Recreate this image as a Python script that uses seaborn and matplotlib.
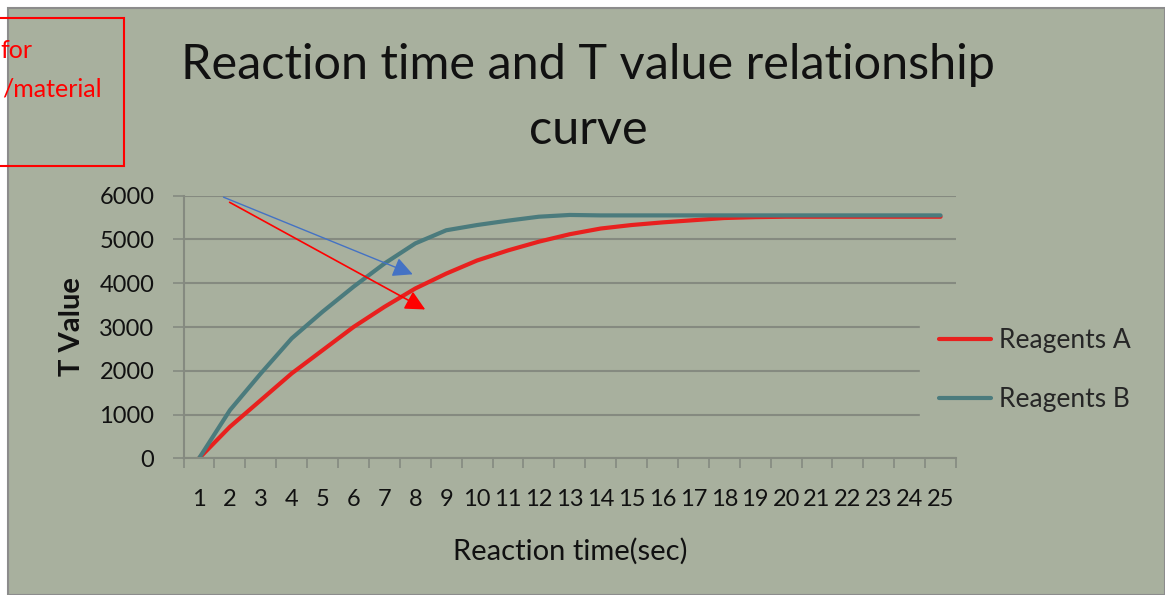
import numpy as np
import pandas as pd
import matplotlib.pyplot as plt
import seaborn as sns
from matplotlib.patches import Rectangle

# data
times = list(range(1, 26))
reagent_a = [0, 720, 1330, 1940, 2470, 3000, 3460, 3880, 4220, 4520,
             4750, 4950, 5120, 5250, 5330, 5390, 5440, 5490, 5510, 5520,
             5520, 5520, 5520, 5520, 5520]
reagent_b = [0, 1100, 1940, 2740, 3350, 3920, 4450, 4910, 5210, 5330,
             5430, 5520, 5560, 5550, 5550, 5550, 5550, 5550, 5550, 5550,
             5550, 5550, 5550, 5550, 5550]
series_names = ["Reagents A", "Reagents B"]
y_ticks = [0, 1000, 2000, 3000, 4000, 5000, 6000]

df = pd.DataFrame({
    "time": times * 2,
    "T": reagent_a + reagent_b,
    "series": [series_names[0]] * len(times) + [series_names[1]] * len(times),
})

bg = "#a8b09e"
grid_c = "#858a80"
red = "#e8201e"
teal = "#4b7b7d"

sns.set_theme(style="white")
plt.rcParams["font.family"] = ["Lato", "DejaVu Sans"]

W, H = 1165, 595
fig = plt.figure(figsize=(W / 100, H / 100), dpi=100, facecolor="white")

def fx(px):
    return px / W

def fy(py):
    return 1 - py / H

# chart frame
fig.patches.append(Rectangle((fx(8), 0), 1 - fx(8), fy(8), transform=fig.transFigure,
                             facecolor=bg, edgecolor="#8c8c8c", lw=1.5, zorder=-10))

ax = fig.add_axes([fx(183.6), fy(458.3), fx(956) - fx(183.6), fy(195.7) - fy(458.3)])
ax.set_facecolor(bg)

sns.lineplot(data=df, x="time", y="T", hue="series", palette=[red, teal],
             linewidth=3, ax=ax, legend=True)

ax.set_xlim(0.5, 25.5)
ax.set_ylim(0, 6000)
ax.set_yticks(y_ticks)
ax.set_yticklabels([str(v) for v in y_ticks])
ax.set_xticks(times)
ax.set_xticklabels([str(t) for t in times])
ax.set_xticks(np.arange(0.5, 26, 1), minor=True)
ax.tick_params(axis="x", which="major", length=0, labelsize=17, pad=22, colors="#111111")
ax.tick_params(axis="x", which="minor", length=7, width=1.2, color=grid_c, direction="out", bottom=True)
ax.tick_params(axis="y", length=8, width=1.2, labelsize=17, pad=13, labelcolor="#111111", color=grid_c, left=True)
ax.yaxis.grid(True, color=grid_c, lw=1.5)
ax.set_axisbelow(True)
for s in ["top", "right"]:
    ax.spines[s].set_visible(False)
for s in ["left", "bottom"]:
    ax.spines[s].set_color(grid_c)
    ax.spines[s].set_linewidth(1.5)

ax.set_xlabel("Reaction time(sec)", fontsize=21, labelpad=20, color="#111111")
ax.set_ylabel("T Value", fontsize=21, fontweight="bold", labelpad=10, color="#111111")

leg = ax.legend(loc="center left", bbox_to_anchor=(fx(907 - 183.6) / (fx(956) - fx(183.6)), 0.335),
                frameon=True, facecolor=bg, edgecolor=bg, framealpha=1, fontsize=19,
                handlelength=2.0, handletextpad=0.3, labelspacing=1.3, borderpad=0.7)
for h in leg.get_lines():
    h.set_linewidth(3)

fig.text(fx(588), fy(65), "Reaction time and T value relationship", ha="center", va="center",
         fontsize=35, color="#111111")
fig.text(fx(588), fy(130), "curve", ha="center", va="center", fontsize=35, color="#111111")

# overlaid arrows
ax.annotate("", xy=(8.0, 4180), xytext=(1.71, 5990),
            arrowprops=dict(arrowstyle="-|>,head_length=1.0,head_width=0.5", color="#4472c4", lw=1), annotation_clip=False)
ax.annotate("", xy=(8.4, 3370), xytext=(1.91, 5880),
            arrowprops=dict(arrowstyle="-|>,head_length=1.0,head_width=0.5", color="#ff0000", lw=1.2), annotation_clip=False)

# clipped red note box
fig.patches.append(Rectangle((fx(-5), fy(166)), fx(129), fy(18) - fy(166), transform=fig.transFigure,
                             facecolor="none", edgecolor="#ff0000", lw=1.5, zorder=5))
fig.text(fx(0), fy(50), "for", ha="left", va="center", fontsize=18, color="#ff0000")
fig.text(fx(102), fy(89), "/material", ha="right", va="center", fontsize=18, color="#ff0000")

fig.savefig("out.png", dpi=100, facecolor="white")
